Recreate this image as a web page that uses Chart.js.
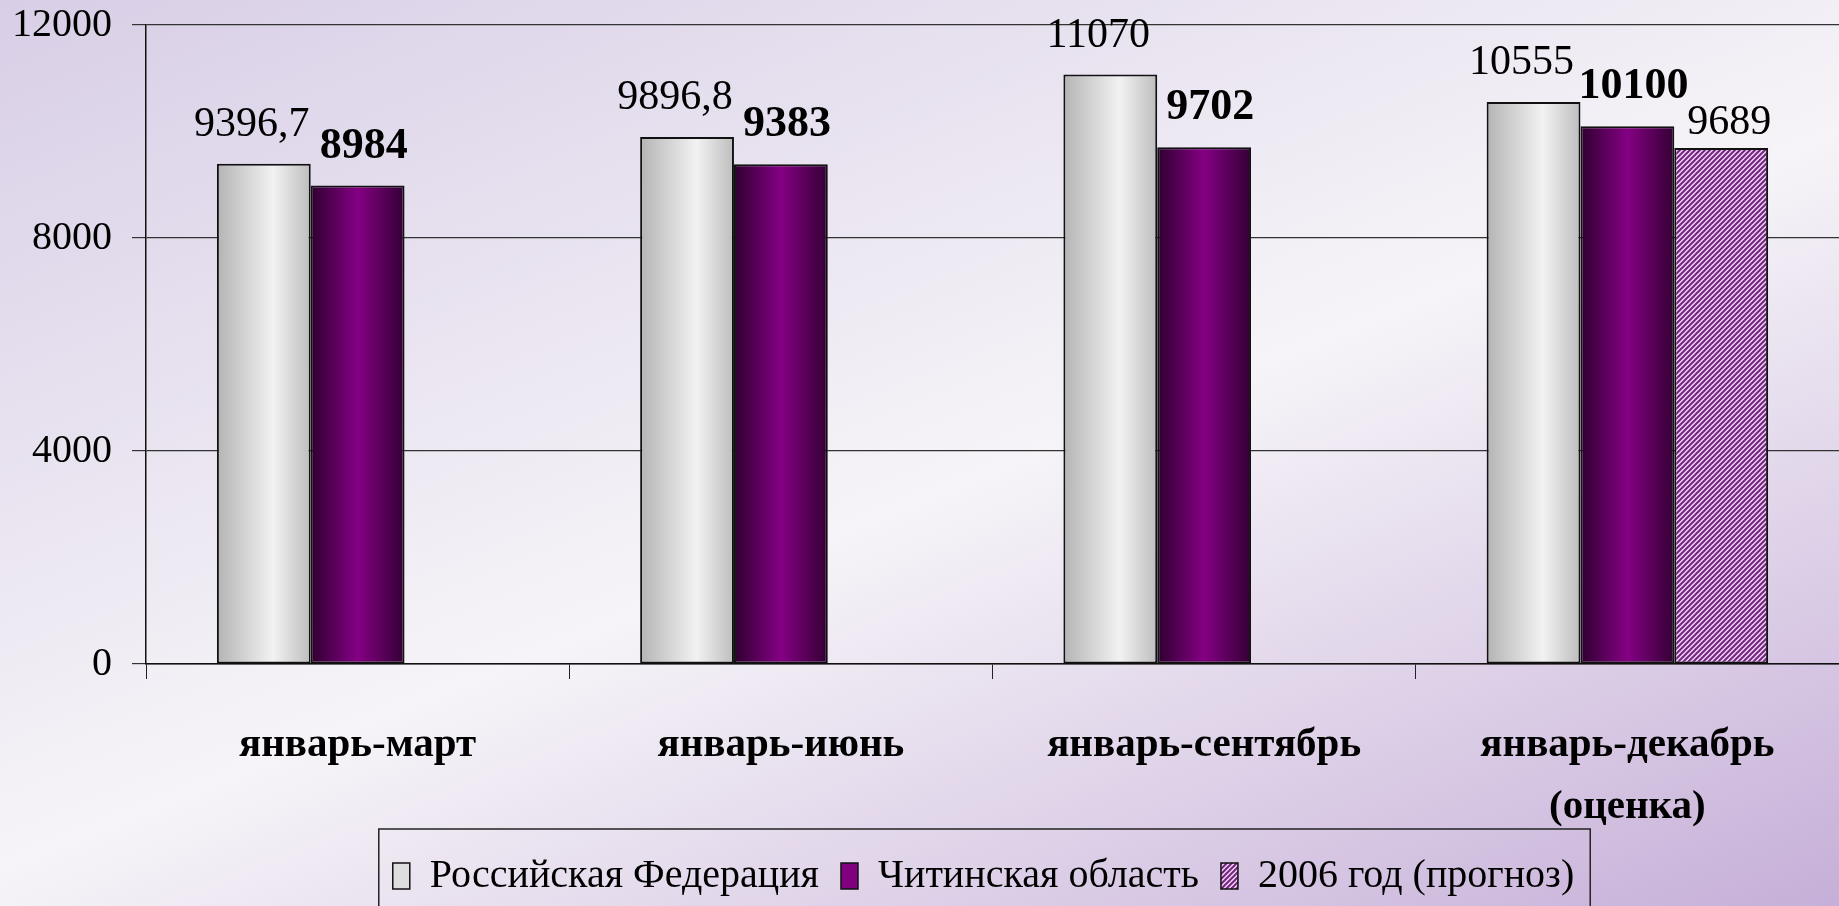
<!DOCTYPE html>
<html lang="ru">
<head>
<meta charset="utf-8">
<title>Среднемесячная заработная плата</title>
<script src="https://cdn.jsdelivr.net/npm/chart.js@4/dist/chart.umd.min.js"></script>
<style>
  html, body { margin: 0; padding: 0; overflow: hidden; }
  canvas { display: block; }
</style>
</head>
<body>
<canvas id="graficoSalario" width="1839" height="906"></canvas>
<script>
// datos
var periodos = ["январь-март", "январь-июнь", "январь-сентябрь", ["январь-декабрь", "(оценка)"]];
var series = ["Российская Федерация", "Читинская область", "2006 год (прогноз)"];
var rusia = [9396.7, 9896.8, 11070, 10555];
var chita = [8984, 9383, 9702, 10100];
var pronostico = [null, null, null, 9689];
var ticksY = [0, 4000, 8000, 12000];

var serif = "'Liberation Serif', 'Times New Roman', serif";
var GRUPO = 0.665;

function formato(v) {
  return String(v).replace(".", ",");
}

// relleno con degradado horizontal para cada barra
function degradado(paradas, plano) {
  return function (c) {
    var chart = c.chart;
    var x = chart.scales ? chart.scales.x : null;
    if (c.type !== "data" || !x || !chart.chartArea) return plano;
    var cat = x.width / periodos.length;
    var grupo = cat * GRUPO;
    var w = grupo / series.length;
    var izq = x.getPixelForValue(c.dataIndex) - grupo / 2 + c.datasetIndex * w;
    var g = chart.ctx.createLinearGradient(izq, 0, izq + w, 0);
    paradas.forEach(function (p) { g.addColorStop(p[0], p[1]); });
    return g;
  };
}

// trama rayada para el pronóstico
function trama() {
  var t = document.createElement("canvas");
  t.width = 5; t.height = 5;
  var c = t.getContext("2d");
  c.fillStyle = "#efd3f4";
  c.fillRect(0, 0, 5, 5);
  c.strokeStyle = "#74267f";
  c.lineWidth = 2;
  c.beginPath();
  c.moveTo(-1, 6); c.lineTo(6, -1);
  c.moveTo(-3.5, 3.5); c.lineTo(3.5, -3.5);
  c.moveTo(1.5, 8.5); c.lineTo(8.5, 1.5);
  c.stroke();
  return c.createPattern(t, "repeat");
}
var rayado = trama();

var gris = degradado([[0, "#b4b4b4"], [0.6, "#f2f2f2"], [1, "#bdbdbd"]], "#dcdcdc");
var morado = degradado([[0, "#2e002f"], [0.5, "#840084"], [1, "#330033"]], "#800080");

var fondo = {
  id: "fondo",
  beforeDraw: function (chart) {
    var ctx = chart.ctx;
    var g = ctx.createLinearGradient(0, 0, 600, 1500);
    g.addColorStop(0, "#d8cee6");
    g.addColorStop(0.5, "#f6f4f8");
    g.addColorStop(1, "#c0a6d4");
    ctx.save();
    ctx.fillStyle = g;
    ctx.fillRect(0, 0, chart.width, chart.height);
    ctx.restore();
  }
};

// pequeños ajustes de las etiquetas por serie (x, y)
var desplazamiento = [[-12, -28], [6, -28], [8, -14]];

var etiquetasValores = {
  id: "etiquetasValores",
  afterDatasetsDraw: function (chart) {
    var ctx = chart.ctx;
    chart.data.datasets.forEach(function (ds, i) {
      chart.getDatasetMeta(i).data.forEach(function (bar, j) {
        if (ds.data[j] == null) return;
        ctx.save();
        ctx.font = (i === 1 ? "bold 44px " : "42px ") + serif;
        ctx.fillStyle = "#000";
        ctx.textAlign = "center";
        ctx.textBaseline = "alphabetic";
        ctx.fillText(formato(ds.data[j]), bar.x + desplazamiento[i][0], bar.y + desplazamiento[i][1]);
        ctx.restore();
      });
    });
  }
};

// la leyenda del original no está centrada: se corre a la derecha
var corrimientoLeyenda = {
  id: "corrimientoLeyenda",
  afterLayout: function (chart) {
    chart.legend.left += 64;
    chart.legend.right += 64;
  }
};

var marcoLeyenda = {
  id: "marcoLeyenda",
  afterDraw: function (chart) {
    var cajas = chart.legend.legendHitBoxes;
    if (!cajas || !cajas.length) return;
    var izq = cajas[0].left, der = 0, arriba = cajas[0].top;
    cajas.forEach(function (b) {
      izq = Math.min(izq, b.left);
      der = Math.max(der, b.left + b.width);
    });
    var ctx = chart.ctx;
    ctx.save();
    ctx.strokeStyle = "#222";
    ctx.lineWidth = 1.5;
    ctx.strokeRect(izq - 14, arriba - 27, der - izq + 30, 200);
    ctx.restore();
  }
};

Chart.defaults.font.family = serif;
Chart.defaults.color = "#000";

new Chart(document.getElementById("graficoSalario"), {
  type: "bar",
  data: {
    labels: periodos,
    datasets: [{
      label: series[0],
      data: rusia,
      backgroundColor: gris,
      borderColor: "#111",
      borderWidth: 2,
      borderSkipped: false
    }, {
      label: series[1],
      data: chita,
      backgroundColor: morado,
      borderColor: "#111",
      borderWidth: 2,
      borderSkipped: false
    }, {
      label: series[2],
      data: pronostico,
      backgroundColor: rayado,
      borderColor: "#111",
      borderWidth: 2,
      borderSkipped: false
    }]
  },
  options: {
    responsive: false,
    animation: false,
    categoryPercentage: GRUPO,
    barPercentage: 1,
    layout: { padding: { top: 25, right: 0, left: 0, bottom: 0 } },
    plugins: {
      tooltip: { enabled: false },
      legend: {
        position: "bottom",
        labels: {
          font: { size: 40 },
          boxWidth: 17,
          boxHeight: 26,
          padding: 22,
          generateLabels: function (chart) {
            var items = Chart.defaults.plugins.legend.labels.generateLabels(chart);
            var rellenos = ["#dedede", "#800080", rayado];
            items.forEach(function (it, i) {
              it.fillStyle = rellenos[i];
              it.strokeStyle = "#111";
              it.lineWidth = 1.5;
            });
            return items;
          }
        }
      }
    },
    scales: {
      x: {
        offset: true,
        afterFit: function (scale) { scale.height -= 40; },
        grid: {
          offset: true,
          drawOnChartArea: false,
          drawTicks: true,
          tickLength: 15,
          color: "#222"
        },
        border: { color: "#111", width: 1.5 },
        ticks: {
          font: { size: 41, weight: "bold", lineHeight: 1.5 },
          padding: 36,
          maxRotation: 0,
          autoSkip: false
        }
      },
      y: {
        min: 0,
        max: 12000,
        afterBuildTicks: function (scale) {
          scale.ticks = ticksY.map(function (v) { return { value: v }; });
        },
        afterFit: function (scale) {
          scale.width = 146;
          scale.paddingTop = 0;
          scale.paddingBottom = 0;
        },
        grid: {
          color: "#333",
          lineWidth: 1.2,
          tickLength: 14
        },
        border: { color: "#111", width: 1.5 },
        ticks: {
          font: { size: 40 },
          padding: 20,
          callback: function (v) { return String(v); }
        }
      }
    }
  },
  plugins: [fondo, corrimientoLeyenda, etiquetasValores, marcoLeyenda]
});
</script>
</body>
</html>
